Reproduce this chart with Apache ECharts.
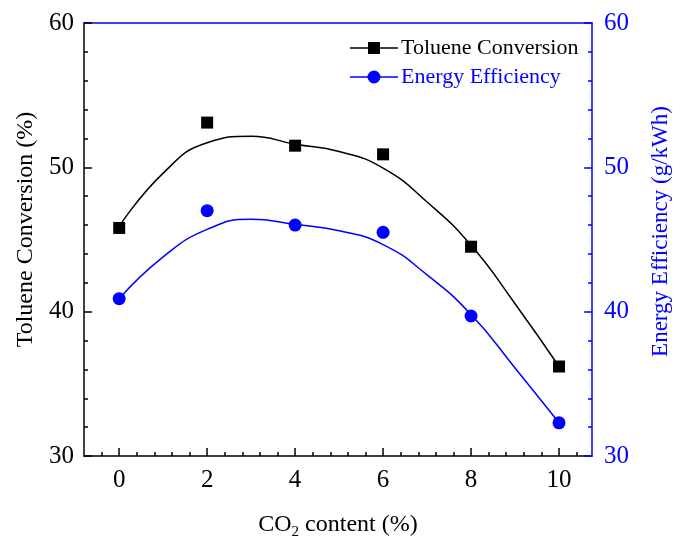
<!DOCTYPE html>
<html>
<head>
<meta charset="utf-8">
<script src="https://cdn.jsdelivr.net/npm/echarts@6/dist/echarts.min.js"></script>
<style>
html,body{margin:0;padding:0;background:#fff;}
#chart{width:675px;height:542px;}
</style>
</head>
<body>
<div id="chart"></div>
<script>
// ---- data ----
const co2Content = [0, 2, 4, 6, 8, 10];
const tolueneConversion = [45.8, 53.1, 51.5, 50.9, 44.5, 36.2];
const energyEfficiency = [40.9, 47.0, 46.0, 45.5, 39.7, 32.3];
// fitted curves
const fitX = [0, 1, 2, 3, 4, 5, 6, 7, 8, 9, 10];
const tolueneFit = [45.9, 49.6, 51.7, 52.15, 51.6, 51.1, 49.95, 47.6, 44.6, 40.55, 36.2];
const energyFit = [40.9, 43.8, 45.7, 46.4, 46.05, 45.6, 44.65, 42.55, 39.8, 36.1, 32.3];
// tick labels
const xMajorTicks = [0, 2, 4, 6, 8, 10];
const xMinorTicks = [-0.4, 0.4, 0.8, 1.2, 1.6, 2.4, 2.8, 3.2, 3.6, 4.4, 4.8, 5.2, 5.6, 6.4, 6.8, 7.2, 7.6, 8.4, 8.8, 9.2, 9.6, 10.4];

const FONT = 'Liberation Serif';
const BLUE = '#0000ff';
const BLACK = '#000000';

function pairs(xs, ys) { return xs.map((x, i) => [x, ys[i]]); }

const chart = echarts.init(document.getElementById('chart'), null, {renderer: 'canvas'});
const option = {
  animation: false,
  textStyle: {fontFamily: FONT},
  grid: {left: 84, right: 83, top: 23, bottom: 86, containLabel: false, outerBoundsMode: 'none'},
  legend: {
    orient: 'vertical',
    left: 350,
    top: 37,
    padding: 0,
    itemWidth: 48,
    itemHeight: 14,
    itemGap: 7,
    textStyle: {fontFamily: FONT, fontSize: 22, padding: [0, 0, 0, -2]},
    data: [
      {name: 'Toluene Conversion', icon: 'path://M0,6.3H18V7.7H0Z M18,1H30V13H18Z M30,6.3H48V7.7H30Z',
       itemStyle: {color: BLACK}, textStyle: {color: BLACK}},
      {name: 'Energy Efficiency', icon: 'path://M0,6.3H18V7.7H0Z M30,6.3H48V7.7H30Z M30.5,7A6.5,6.5 0 1,1 17.5,7A6.5,6.5 0 1,1 30.5,7Z',
       itemStyle: {color: BLUE}, textStyle: {color: BLUE}}
    ]
  },
  xAxis: [
    {
      type: 'value', position: 'bottom', min: -0.8, max: 10.75,
      name: 'CO{sub|2} content (%)', nameLocation: 'middle', nameGap: 53,
      nameTextStyle: {fontFamily: FONT, fontSize: 24, color: BLACK,
        rich: {sub: {fontFamily: FONT, fontSize: 15, color: BLACK, padding: [16, 0, 0, 0]}}},
      axisLine: {onZero: false, lineStyle: {color: BLACK, width: 1.5}},
      axisTick: {inside: true, length: 8, customValues: xMajorTicks, lineStyle: {color: BLACK, width: 1.5}},
      axisLabel: {customValues: xMajorTicks, margin: 12, fontSize: 25, color: BLACK, fontFamily: FONT},
      splitLine: {show: false}
    },
    {
      type: 'value', position: 'bottom', min: -0.8, max: 10.75,
      axisLine: {show: false, onZero: false},
      axisTick: {inside: true, length: 4, customValues: xMinorTicks, lineStyle: {color: BLACK, width: 1.5}},
      axisLabel: {show: false},
      splitLine: {show: false}
    },
    {
      type: 'value', position: 'top', min: -0.8, max: 10.75,
      axisLine: {show: true, onZero: false, lineStyle: {color: BLUE, width: 1.5}},
      axisTick: {show: false}, axisLabel: {show: false}, splitLine: {show: false}
    }
  ],
  yAxis: [
    {
      type: 'value', position: 'left', min: 30, max: 60, interval: 10,
      name: 'Toluene Conversion (%)', nameLocation: 'middle', nameGap: 46, nameRotate: 90,
      nameTextStyle: {fontFamily: FONT, fontSize: 24, color: BLACK, padding: [0, 0, 0, 20]},
      axisLine: {show: true, onZero: false, lineStyle: {color: BLACK, width: 1.5}},
      axisTick: {inside: true, length: 8, lineStyle: {color: BLACK, width: 1.5}},
      minorTick: {show: true, splitNumber: 5, length: 4, lineStyle: {color: BLACK, width: 1.5}},
      axisLabel: {margin: 10, fontSize: 25, color: BLACK, fontFamily: FONT},
      splitLine: {show: false}, minorSplitLine: {show: false}
    },
    {
      type: 'value', position: 'right', min: 30, max: 60, interval: 10,
      name: 'Energy Efficiency (g/kWh)', nameLocation: 'middle', nameGap: 57, nameRotate: 90,
      nameTextStyle: {fontFamily: FONT, fontSize: 23, color: BLUE, padding: [0, 0, 0, 16]},
      axisLine: {show: true, onZero: false, lineStyle: {color: BLUE, width: 1.5}},
      axisTick: {inside: true, length: 8, lineStyle: {color: BLUE, width: 1.5}},
      minorTick: {show: true, splitNumber: 5, length: 4, lineStyle: {color: BLUE, width: 1.5}},
      axisLabel: {margin: 12, fontSize: 25, color: BLUE, fontFamily: FONT},
      splitLine: {show: false}, minorSplitLine: {show: false}
    }
  ],
  series: [
    {
      name: 'Toluene Conversion fit', type: 'line', xAxisIndex: 0, yAxisIndex: 0,
      data: pairs(fitX, tolueneFit), smooth: 0.5, showSymbol: false, symbol: 'none',
      lineStyle: {color: BLACK, width: 1.5}, z: 2, silent: true
    },
    {
      name: 'Energy Efficiency fit', type: 'line', xAxisIndex: 0, yAxisIndex: 1,
      data: pairs(fitX, energyFit), smooth: 0.5, showSymbol: false, symbol: 'none',
      lineStyle: {color: BLUE, width: 1.5}, z: 2, silent: true
    },
    {
      name: 'Toluene Conversion', type: 'scatter', xAxisIndex: 0, yAxisIndex: 0,
      data: pairs(co2Content, tolueneConversion), symbol: 'rect', symbolSize: 12,
      itemStyle: {color: BLACK, opacity: 1}, z: 3
    },
    {
      name: 'Energy Efficiency', type: 'scatter', xAxisIndex: 0, yAxisIndex: 1,
      data: pairs(co2Content, energyEfficiency), symbol: 'circle', symbolSize: 13,
      itemStyle: {color: BLUE, opacity: 1}, z: 3
    }
  ]
};
chart.setOption(option);
</script>
</body>
</html>
